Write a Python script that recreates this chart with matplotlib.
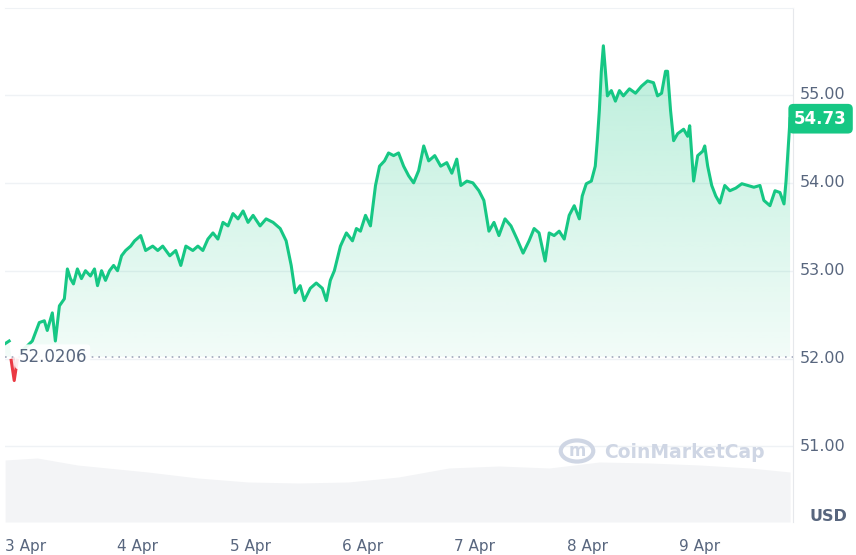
import matplotlib.pyplot as plt
import numpy as np
from matplotlib.patches import Polygon, Circle

# days since 3 Apr 00:00, price in USD
days = [-0.179, -0.143, -0.125, -0.098, -0.071, -0.027, 0.063, 0.125, 0.170, 0.196,
        0.241, 0.268, 0.304, 0.348, 0.375, 0.402, 0.429, 0.464, 0.500, 0.536,
        0.580, 0.616, 0.643, 0.679, 0.714, 0.750, 0.786, 0.821, 0.857, 0.893,
        0.938, 0.973, 1.027, 1.071, 1.134, 1.179, 1.223, 1.286, 1.339, 1.384,
        1.429, 1.491, 1.536, 1.580, 1.625, 1.670, 1.714, 1.759, 1.804, 1.848,
        1.893, 1.938, 1.982, 2.027, 2.089, 2.143, 2.205, 2.268, 2.321, 2.366,
        2.402, 2.446, 2.482, 2.536, 2.589, 2.643, 2.679, 2.714, 2.750, 2.804,
        2.857, 2.911, 2.946, 2.982, 3.027, 3.071, 3.116, 3.152, 3.196, 3.232,
        3.277, 3.321, 3.366, 3.411, 3.455, 3.500, 3.545, 3.589, 3.643, 3.696,
        3.750, 3.795, 3.839, 3.875, 3.929, 3.982, 4.036, 4.080, 4.125, 4.170,
        4.214, 4.268, 4.321, 4.375, 4.429, 4.482, 4.527, 4.571, 4.625, 4.661,
        4.705, 4.750, 4.795, 4.839, 4.884, 4.929, 4.955, 4.991, 5.036, 5.071,
        5.089, 5.107, 5.125, 5.143, 5.161, 5.179, 5.214, 5.250, 5.286, 5.321,
        5.375, 5.429, 5.482, 5.536, 5.589, 5.625, 5.661, 5.696, 5.714, 5.741,
        5.768, 5.804, 5.857, 5.893, 5.911, 5.946, 5.982, 6.027, 6.045, 6.071,
        6.107, 6.143, 6.179, 6.223, 6.268, 6.321, 6.375, 6.429, 6.482, 6.536,
        6.571, 6.625, 6.670, 6.714, 6.750, 6.768, 6.804]
prices = [52.17, 52.20, 51.98, 51.75, 51.98, 52.09, 52.20, 52.41, 52.43, 52.32,
          52.52, 52.20, 52.60, 52.68, 53.02, 52.91, 52.85, 53.02, 52.91, 53.00,
          52.94, 53.02, 52.83, 53.00, 52.89, 53.00, 53.06, 53.00, 53.17, 53.23,
          53.28, 53.34, 53.40, 53.23, 53.28, 53.23, 53.28, 53.17, 53.23, 53.06,
          53.28, 53.23, 53.28, 53.23, 53.36, 53.43, 53.36, 53.55, 53.51, 53.65,
          53.59, 53.68, 53.55, 53.63, 53.51, 53.59, 53.55, 53.48, 53.34, 53.06,
          52.75, 52.83, 52.66, 52.80, 52.86, 52.80, 52.66, 52.89, 53.00, 53.28,
          53.43, 53.34, 53.48, 53.45, 53.63, 53.51, 53.97, 54.19, 54.25, 54.34,
          54.31, 54.34, 54.19, 54.08, 54.00, 54.14, 54.42, 54.25, 54.31, 54.19,
          54.23, 54.11, 54.27, 53.97, 54.02, 54.00, 53.91, 53.80, 53.45, 53.55,
          53.40, 53.59, 53.51, 53.36, 53.20, 53.34, 53.48, 53.43, 53.11, 53.43,
          53.40, 53.45, 53.36, 53.63, 53.74, 53.59, 53.85, 53.99, 54.02, 54.19,
          54.48, 54.82, 55.27, 55.56, 55.27, 54.99, 55.05, 54.93, 55.05, 54.99,
          55.07, 55.02, 55.10, 55.16, 55.14, 54.99, 55.02, 55.27, 55.27, 54.82,
          54.48, 54.56, 54.61, 54.53, 54.65, 54.02, 54.31, 54.36, 54.42, 54.19,
          53.97, 53.85, 53.77, 53.97, 53.91, 53.94, 53.99, 53.97, 53.95, 53.97,
          53.80, 53.74, 53.91, 53.89, 53.76, 54.02, 54.73]

vol_days = [-0.179, 0.107, 0.464, 1.089, 1.536, 1.982, 2.429, 2.875, 3.321, 3.768,
            4.214, 4.661, 5.107, 5.554, 6.000, 6.446, 6.804]
volume = [62, 64, 57, 50, 44, 40, 39, 40, 45, 54, 56, 54, 60, 59, 57, 54, 50]

base = 52.0206
last = 54.73
day_labels = ['3 Apr', '4 Apr', '5 Apr', '6 Apr', '7 Apr', '8 Apr', '9 Apr']
yticks = [51.0, 52.0, 53.0, 54.0, 55.0]

green = '#16c784'
red = '#ea3943'
grey = '#58667e'

fig = plt.figure(figsize=(8.56, 5.55), dpi=100)
ax = fig.add_axes([5/856, 33/555, 788/856, 514/555])
ymin, ymax = 50.14, 55.99
xmin, xmax = -0.18, 6.83
ax.set_xlim(xmin, xmax)
ax.set_ylim(ymin, ymax)

# volume on its own scale
axv = ax.twinx()
axv.set_ylim(0, 514)
axv.fill_between(vol_days, volume, color='#f3f4f6', lw=0, zorder=0)
axv.set_axis_off()
ax.set_zorder(axv.get_zorder() + 1)
ax.patch.set_visible(False)

d = np.array(days)
p = np.array(prices)

# gradient fill under the line
grad = np.linspace(0.3, 0.0, 256).reshape(-1, 1)
cols = np.zeros((256, 1, 4))
cols[..., :3] = (0x16/255, 0xc7/255, 0x84/255)
cols[..., 3] = grad
im = ax.imshow(cols, extent=[xmin, xmax, 51.2, 55.6], aspect='auto', origin='upper', zorder=1)
poly = Polygon(np.column_stack([np.r_[d[0], d, d[-1]], np.r_[base, np.maximum(p, base), base]]),
               closed=True, transform=ax.transData, facecolor='none', edgecolor='none')
ax.add_patch(poly)
im.set_clip_path(poly)
ax.fill_between(d, p, base, where=p < base, interpolate=True, color=red, alpha=0.15, lw=0, zorder=1)

# line: green above baseline, red below
ax.plot(d, np.ma.masked_less(p, base), color=green, lw=2.2, zorder=3)
ax.plot(d, np.ma.masked_greater(p, base), color=red, lw=2.2, zorder=3)

ax.axhline(base, color='#a1a7bb', lw=1.2, ls=(0, (1, 3)), zorder=2)
for yt in yticks:
    ax.axhline(yt, color='#eff2f5', lw=1, zorder=0)

ax.set_xticks(range(len(day_labels)))
ax.set_xticklabels(day_labels)
ax.set_yticks([])
ax.tick_params(axis='x', length=0, pad=12, labelsize=11, labelcolor=grey)
for s in ['left', 'bottom']:
    ax.spines[s].set_visible(False)
ax.spines['top'].set_color('#eff2f5')
ax.spines['right'].set_color('#e6e8ec')

for yt in yticks:
    ax.text(1.037, yt, f'{yt:.2f}', transform=ax.get_yaxis_transform(), ha='center', va='center',
            fontsize=11.5, color=grey)
ax.text(1.045, 0.01, 'USD', transform=ax.transAxes, ha='center', va='center', fontsize=11.5,
        color=grey, fontweight='bold')

ax.text(0.017, base, f'{base:.4f}', transform=ax.get_yaxis_transform(), ha='left', va='center',
        fontsize=12, color=grey, zorder=5,
        bbox=dict(boxstyle='round,pad=0.2', fc='white', ec='none', alpha=0.9))

ax.text(1.035, last, f'{last:.2f}', transform=ax.get_yaxis_transform(), ha='center', va='center',
        fontsize=12, color='white', fontweight='bold', zorder=6, clip_on=False,
        bbox=dict(boxstyle='round,pad=0.35,rounding_size=0.3', fc=green, ec='none'))

# watermark
fig.text(604/856, 1 - 452/555, 'CoinMarketCap', fontsize=13.5, color='#cfd6e4', fontweight='bold', va='center')
fig.patches.append(Circle((577/856, 1 - 451/555), 0.019, transform=fig.transFigure,
                          fill=False, ec='#cfd6e4', lw=3))
fig.text(577/856, 1 - 451/555, 'm', fontsize=12, color='#cfd6e4', fontweight='bold', ha='center', va='center')

fig.savefig('out.png', dpi=100)
